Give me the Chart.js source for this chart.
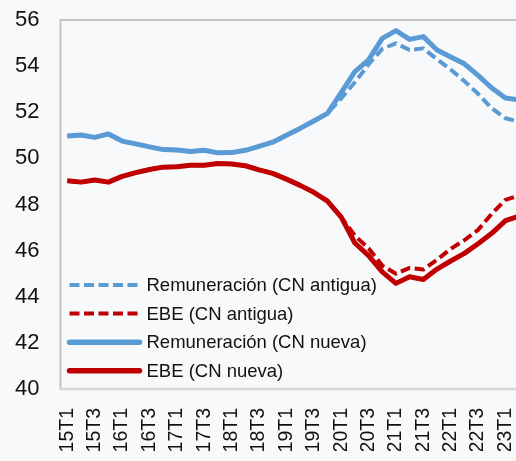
<!DOCTYPE html>
<html>
<head>
<meta charset="utf-8">
<script src="https://cdn.jsdelivr.net/npm/chart.js@4"></script>
<style>
  html, body { margin: 0; padding: 0; background: #f8f9fb; }
  #wrap { position: relative; width: 516px; height: 461px; overflow: hidden; background: #f8f9fb; }
  canvas { display: block; }
</style>
</head>
<body>
<div id="wrap"><canvas id="c" width="540" height="461"></canvas></div>
<script>
// ---- data ----
const quarters = ['15T1','15T2','15T3','15T4','16T1','16T2','16T3','16T4','17T1','17T2','17T3','17T4',
  '18T1','18T2','18T3','18T4','19T1','19T2','19T3','19T4','20T1','20T2','20T3','20T4',
  '21T1','21T2','21T3','21T4','22T1','22T2','22T3','22T4','23T1','23T2'];

const remAntigua = [50.97, 51.01, 50.91, 51.06, 50.75, 50.63, 50.50, 50.38, 50.36, 50.30, 50.35, 50.24,
  50.25, 50.35, 50.52, 50.70, 51.00, 51.30, 51.62, 51.95, 52.60, 53.30, 54.07, 54.75,
  54.99, 54.70, 54.77, 54.30, 53.85, 53.35, 52.80, 52.17, 51.74, 51.59];
const ebeAntigua = [49.03, 48.97, 49.06, 48.97, 49.22, 49.38, 49.52, 49.62, 49.64, 49.70, 49.70, 49.78,
  49.76, 49.68, 49.50, 49.35, 49.10, 48.83, 48.53, 48.15, 47.45, 46.65, 46.10, 45.35,
  45.00, 45.25, 45.18, 45.60, 46.08, 46.45, 46.90, 47.60, 48.20, 48.40];
const remNueva = [50.97, 51.01, 50.91, 51.06, 50.75, 50.63, 50.50, 50.38, 50.36, 50.30, 50.35, 50.24,
  50.25, 50.35, 50.52, 50.70, 51.00, 51.30, 51.62, 51.95, 52.85, 53.76, 54.27, 55.20,
  55.54, 55.16, 55.28, 54.70, 54.40, 54.10, 53.60, 53.05, 52.62, 52.53];
const ebeNueva = [49.03, 48.97, 49.06, 48.97, 49.22, 49.38, 49.52, 49.62, 49.64, 49.70, 49.70, 49.78,
  49.76, 49.68, 49.50, 49.35, 49.10, 48.83, 48.53, 48.15, 47.45, 46.33, 45.78, 45.08,
  44.58, 44.87, 44.75, 45.20, 45.55, 45.88, 46.30, 46.75, 47.30, 47.50];

const seriesLabels = ['Remuneración (CN antigua)', 'EBE (CN antigua)', 'Remuneración (CN nueva)', 'EBE (CN nueva)'];
const yTicks = [40, 42, 44, 46, 48, 50, 52, 54, 56];

const BLUE = '#5b9bd5';
const RED = '#c00000';
const FONT = "'Liberation Sans', Arial, sans-serif";

const framePlugin = {
  id: 'frame',
  beforeDatasetsDraw(chart) {
    const { ctx, chartArea: a } = chart;
    ctx.save();
    ctx.strokeStyle = '#c4c4c4';
    ctx.lineWidth = 2;
    ctx.beginPath();
    ctx.moveTo(a.right + 5, a.top);
    ctx.lineTo(a.left, a.top);
    ctx.lineTo(a.left, a.bottom);
    ctx.stroke();
    ctx.strokeStyle = '#d6d6d6';
    ctx.lineWidth = 2.5;
    ctx.beginPath();
    ctx.moveTo(a.left - 1, a.bottom);
    ctx.lineTo(a.right + 5, a.bottom);
    ctx.stroke();
    ctx.restore();
  }
};

const legendPlugin = {
  id: 'innerLegend',
  afterDatasetsDraw(chart) {
    const { ctx, chartArea: a } = chart;
    ctx.save();
    ctx.font = '18.5px ' + FONT;
    ctx.textBaseline = 'middle';
    ctx.textAlign = 'left';
    chart.data.datasets.forEach((ds, i) => {
      const y = a.top + 265 + i * 28.6;
      ctx.beginPath();
      ctx.strokeStyle = ds.borderColor;
      ctx.lineWidth = ds.borderDash ? 4 : 5.5;
      ctx.lineCap = ds.borderDash ? 'butt' : 'round';
      ctx.setLineDash(ds.borderDash || []);
      ctx.moveTo(a.left + 9, y);
      ctx.lineTo(a.left + 79, y);
      ctx.stroke();
      ctx.setLineDash([]);
      ctx.fillStyle = '#111';
      ctx.fillText(ds.label, a.left + 86, y + 1);
    });
    ctx.restore();
  }
};

const mk = (label, data, color, dashed) => ({
  label, data,
  borderColor: color,
  backgroundColor: color,
  borderWidth: dashed ? 4 : 5,
  borderDash: dashed ? [10, 4.5] : undefined,
  borderJoinStyle: 'round',
  borderCapStyle: 'butt',
  pointRadius: 0,
  tension: 0,
  fill: false,
  order: dashed ? 2 : 1
});

new Chart(document.getElementById('c'), {
  type: 'line',
  data: {
    labels: quarters,
    datasets: [
      mk(seriesLabels[0], remAntigua, BLUE, true),
      mk(seriesLabels[1], ebeAntigua, RED, true),
      mk(seriesLabels[2], remNueva, BLUE, false),
      mk(seriesLabels[3], ebeNueva, RED, false)
    ]
  },
  options: {
    responsive: false,
    animation: false,
    layout: { padding: { top: 20, right: 14, bottom: 10, left: 0 } },
    plugins: { legend: { display: false }, tooltip: { enabled: false } },
    scales: {
      x: {
        type: 'category',
        offset: true,
        afterFit(s) { s.paddingLeft = 0; s.paddingRight = 0; s.height = 62; },
        grid: { display: false, drawTicks: false },
        border: { display: false },
        ticks: {
          autoSkip: false,
          minRotation: 90,
          maxRotation: 90,
          padding: 19,
          color: '#111',
          font: { family: FONT, size: 19.5 },
          callback: function (v, i) { return i % 2 === 0 ? quarters[i] : null; }
        }
      },
      y: {
        min: yTicks[0],
        max: yTicks[yTicks.length - 1],
        afterFit(s) { s.width = 60.5; s.paddingTop = 0; s.paddingBottom = 0; },
        afterBuildTicks(s) { s.ticks = yTicks.map(v => ({ value: v })); },
        grid: { display: false, drawTicks: false },
        border: { display: false },
        ticks: {
          padding: 21,
          color: '#111',
          font: { family: FONT, size: 22 }
        }
      }
    }
  },
  plugins: [framePlugin, legendPlugin]
});
</script>
</body>
</html>
